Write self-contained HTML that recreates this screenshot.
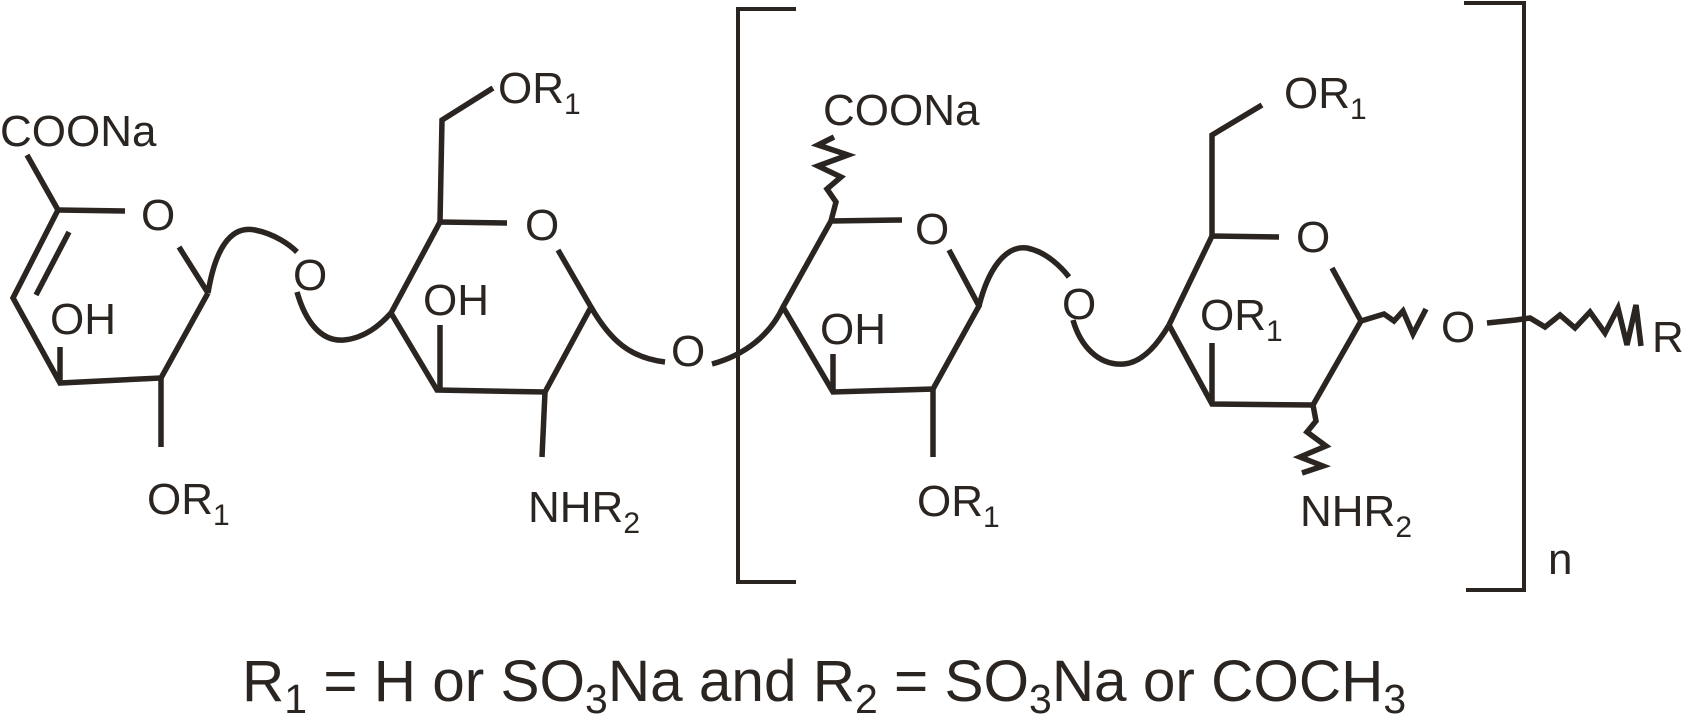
<!DOCTYPE html>
<html><head><meta charset="utf-8"><style>
html,body{margin:0;padding:0;background:#fff;}
svg{display:block;}
text{font-family:"Liberation Sans",sans-serif;fill:#2b2522;}
</style></head><body>
<svg width="1688" height="721" viewBox="0 0 1688 721" xmlns="http://www.w3.org/2000/svg">
<g fill="none" stroke="#2b2522" stroke-width="5.5" stroke-linejoin="miter">
<path d="M27 155 L58 210 L13 298 L60 383 L161 378 L208 293"/>
<path d="M58 210 L125 211"/>
<path d="M179 247 L208 293"/>
<path d="M69 232 L36 295"/>
<path d="M60 347 L60 383"/>
<path d="M161 378 L161 447"/>
<path d="M208 293 C215 250 230 225 255 230 C275 234 290 245 297 252"/>
<path d="M297 292 C305 320 320 342 344 340 C365 338 380 325 391 313"/>
<path d="M391 313 L440 222 L507 223"/>
<path d="M558 250 L591 307 L545 392 L437 390 L391 313"/>
<path d="M440 325 L440 390"/>
<path d="M545 392 L542 457"/>
<path d="M440 222 L442 120 L493 88"/>
<path d="M591 307 C610 340 630 358 665 362"/>
<path d="M712 364 C745 355 770 335 783 307 L831 221 L902 220"/>
<path d="M949 250 L979 306 L933 389 L833 392 L783 307"/>
<path d="M833 354 L833 392"/>
<path d="M933 389 L933 457"/>
<path d="M831 221 L836 202 L827 189 L841 177 L818 166 L848 155 L818 145 L834 137"/>
<path d="M979 306 C988 270 1005 245 1027 248 C1047 252 1062 268 1069 277"/>
<path d="M1073 320 C1080 345 1098 366 1124 364 C1145 362 1160 340 1169 325"/>
<path d="M1169 325 L1212 236 L1279 237"/>
<path d="M1332 268 L1361 321 L1313 405 L1212 404 L1169 325"/>
<path d="M1212 343 L1212 404"/>
<path d="M1212 236 L1212 135 L1262 105"/>
<path d="M1313 405 L1316 421 L1307 432 L1326 446 L1300 457 L1323 466 L1302 473"/>
<path d="M1361 321 L1384 314 L1394 321 L1403 311 L1413 334 L1426 309"/>
<path d="M1487 323 L1516 320 L1530 318 L1545 327 L1560 315 L1575 328 L1590 312 L1605 333 L1618 308 L1627 345 L1636 305 L1641 346"/>
</g>
<g fill="none" stroke="#2b2522" stroke-width="4">
<path d="M796 9 L738 9 L738 582 L796 582"/>
<path d="M1464 3 L1524 3 L1524 590 L1466 590"/>
</g>
<g font-size="44">
<text x="0" y="146">COONa</text>
<text x="141" y="230">O</text>
<text x="50" y="334">OH</text>
<text x="147" y="514">OR<tspan font-size="30" dy="11">1</tspan></text>
<text x="293" y="290">O</text>
<text x="498" y="103">OR<tspan font-size="30" dy="11">1</tspan></text>
<text x="525" y="240">O</text>
<text x="423" y="315">OH</text>
<text x="528" y="522">NHR<tspan font-size="30" dy="11">2</tspan></text>
<text x="671" y="366">O</text>
<text x="823" y="125">COONa</text>
<text x="915" y="244">O</text>
<text x="820" y="344">OH</text>
<text x="917" y="516">OR<tspan font-size="30" dy="11">1</tspan></text>
<text x="1062" y="319">O</text>
<text x="1284" y="108">OR<tspan font-size="30" dy="11">1</tspan></text>
<text x="1296" y="252">O</text>
<text x="1200" y="330">OR<tspan font-size="30" dy="11">1</tspan></text>
<text x="1300" y="526">NHR<tspan font-size="30" dy="11">2</tspan></text>
<text x="1441" y="342">O</text>
<text x="1652" y="352">R</text>
<text x="1548" y="574">n</text>
</g>
<text x="242" y="701" font-size="58.5">R<tspan font-size="41" dy="12">1</tspan><tspan dy="-12"> = H or SO</tspan><tspan font-size="41" dy="12">3</tspan><tspan dy="-12">Na and R</tspan><tspan font-size="41" dy="12">2</tspan><tspan dy="-12"> = SO</tspan><tspan font-size="41" dy="12">3</tspan><tspan dy="-12">Na or COCH</tspan><tspan font-size="41" dy="12">3</tspan></text>
</svg>
</body></html>
